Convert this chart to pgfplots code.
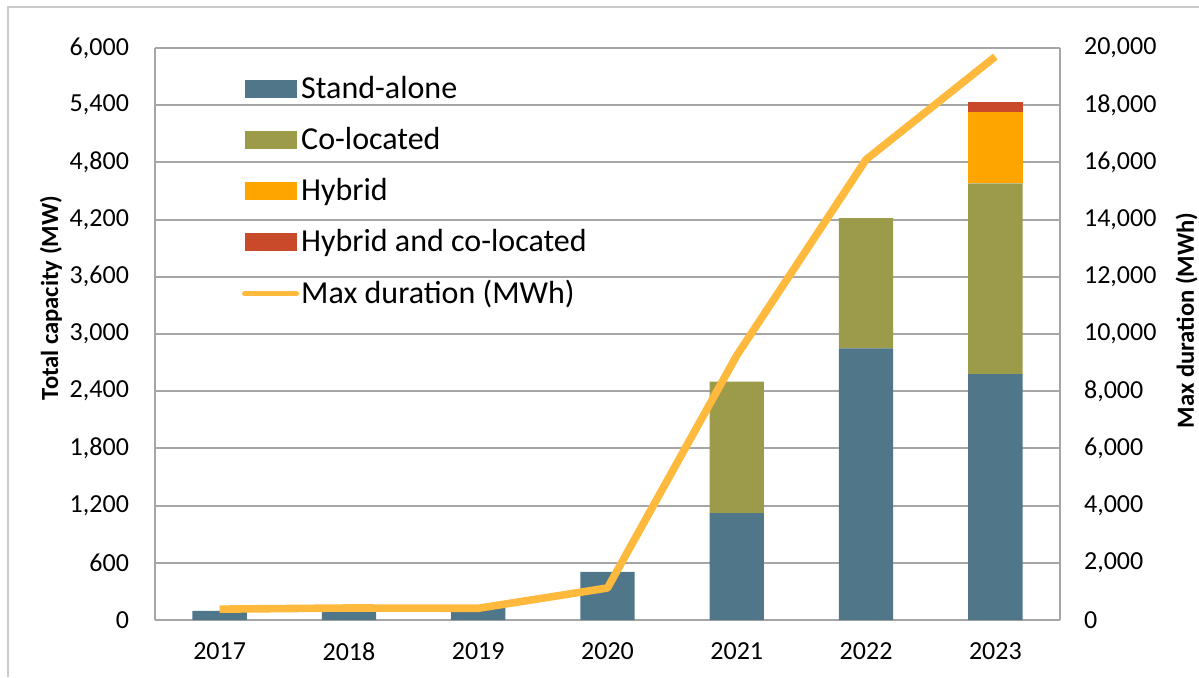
\documentclass[border=0pt]{standalone}
\usepackage{pgfplots}
\pgfplotsset{compat=1.18}
\usepackage{fontspec}
\setmainfont{Carlito}
\definecolor{cStand}{RGB}{80,118,138}
\definecolor{cCo}{RGB}{156,155,74}
\definecolor{cHyb}{RGB}{255,165,0}
\definecolor{cHC}{RGB}{201,74,42}
\definecolor{cLine}{RGB}{255,185,60}
\definecolor{cGrid}{RGB}{166,166,166}
\begin{document}
\begin{tikzpicture}
\useasboundingbox (0,0) rectangle (599.5pt,338.5pt);
\draw[cGrid!60, line width=0.8pt] (4pt,0) -- (4pt,335pt) -- (599.5pt,335pt);
\begin{axis}[
  at={(77.5pt,28.5pt)}, anchor=south west,
  scale only axis, width=452.5pt, height=286pt,
  ybar stacked, bar width=0.42,
  xmin=-0.5, xmax=6.5, ymin=0, ymax=6000,
  xtick={0,...,6}, xticklabels={2017,2018,2019,2020,2021,2022,2023},
  ytick={0,600,...,6000},
  scaled y ticks=false,
  /pgf/number format/.cd, 1000 sep={,}, assume math mode=true, /pgfplots/.cd,
  ymajorgrids, grid style={cGrid, line width=1pt},
  axis x line*=bottom, axis y line*=left,
  axis line style={cGrid, line width=1pt, -},
  major tick length=0pt,
  tick label style={font=\fontsize{13}{15}\selectfont, black},
  yticklabel style={xshift=-9.5pt},
  xticklabel style={yshift=-8pt},
  ylabel={Total capacity (MW)},
  ylabel style={font=\bfseries\fontsize{12.3}{14}\selectfont, at={(axis description cs:-0.115,0.563)}, anchor=center},
  legend cell align=left,
  legend style={draw=none, fill=none, at={(axis description cs:0.0957,0.958)}, anchor=north west,
    font=\fontsize{16}{19}\selectfont, row sep=8.9pt, inner sep=0pt, nodes={inner xsep=1pt}},
]
\addplot[fill=cStand, draw=none, legend image code/.code={\fill[cStand] (0pt,-4.5pt) rectangle (26pt,4.5pt);}]
  coordinates {(0,95) (1,105) (2,130) (3,505) (4,1120) (5,2850) (6,2580)};
\addlegendentry{Stand-alone}
\addplot[fill=cCo, draw=none, legend image code/.code={\fill[cCo] (0pt,-4.5pt) rectangle (26pt,4.5pt);}]
  coordinates {(0,0) (1,0) (2,0) (3,0) (4,1380) (5,1365) (6,2000)};
\addlegendentry{Co-located}
\addplot[fill=cHyb, draw=none, legend image code/.code={\fill[cHyb] (0pt,-4.5pt) rectangle (26pt,4.5pt);}]
  coordinates {(0,0) (1,0) (2,0) (3,0) (4,0) (5,0) (6,750)};
\addlegendentry{Hybrid}
\addplot[fill=cHC, draw=none, legend image code/.code={\fill[cHC] (0pt,-4.5pt) rectangle (26pt,4.5pt);}]
  coordinates {(0,0) (1,0) (2,0) (3,0) (4,0) (5,0) (6,105)};
\addlegendentry{Hybrid and co-located}
\addlegendimage{legend image code/.code={\draw[cLine, line width=2.6pt, line cap=round] (0pt,0pt) -- (26pt,0pt);}}
\addlegendentry{Max duration (MWh)}
\end{axis}
\begin{axis}[
  at={(77.5pt,28.5pt)}, anchor=south west,
  scale only axis, width=452.5pt, height=286pt,
  xmin=-0.5, xmax=6.5, ymin=0, ymax=20000,
  axis x line=none, axis y line*=right,
  axis line style={cGrid, line width=1pt, -},
  ytick={0,2000,...,20000},
  scaled y ticks=false,
  /pgf/number format/.cd, 1000 sep={,}, assume math mode=true, /pgfplots/.cd,
  major tick length=0pt,
  tick label style={font=\fontsize{13}{15}\selectfont, black},
  yticklabel style={xshift=8.5pt},
  ylabel={Max duration (MWh)},
  ylabel style={font=\bfseries\fontsize{12.3}{14}\selectfont, at={(axis description cs:1.14,0.524)}, anchor=center, rotate=0},
]
\addplot[cLine, line width=3.8pt, line join=round, mark=none]
  coordinates {(0,380) (1,420) (2,410) (3,1120) (4,9250) (5,16100) (6,19700)};
\end{axis}
\end{tikzpicture}
\end{document}
